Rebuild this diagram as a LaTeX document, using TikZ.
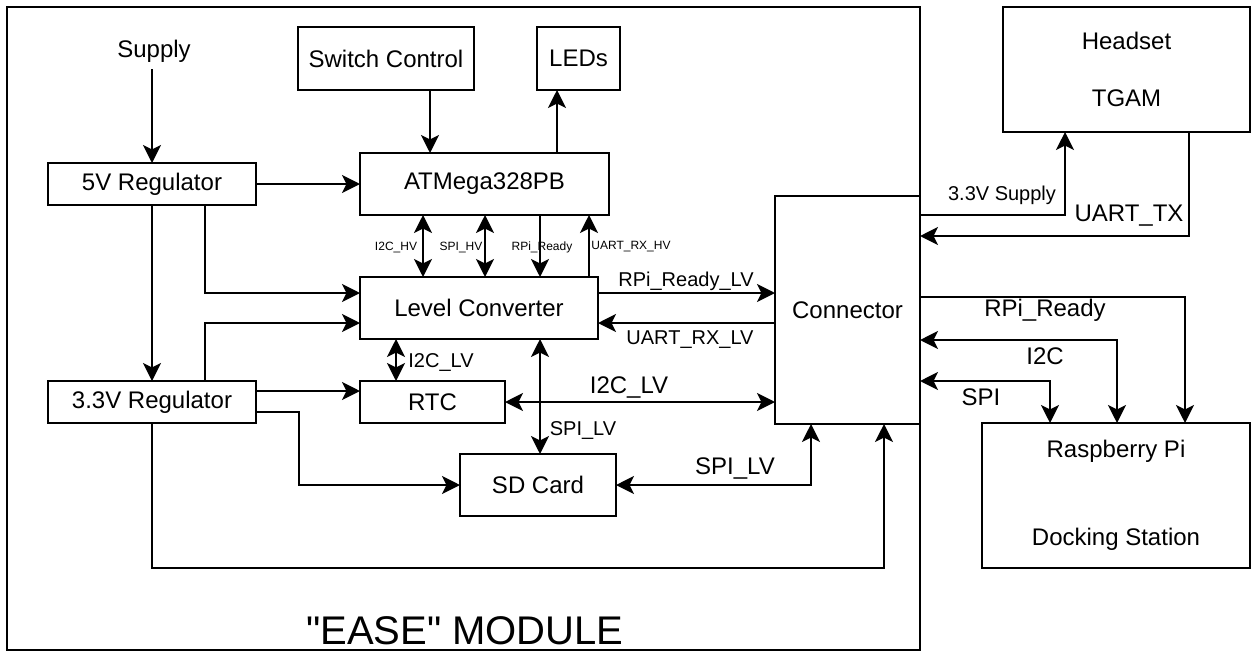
\documentclass[tikz,border=0pt]{standalone}
\usepackage{fontspec}
\setmainfont{Liberation Sans}[Ligatures=TeXOff]
\usetikzlibrary{arrows.meta}
\begin{document}
\begin{tikzpicture}[x=1pt,y=-1pt,
  line width=2pt,
  box/.style={draw, inner sep=0pt, outer sep=0pt, align=center, font=\fontsize{24}{28}\selectfont},
  lbl/.style={inner sep=0pt, font=\fontsize{24}{28}\selectfont},
  mlbl/.style={inner sep=0pt, font=\fontsize{20}{24}\selectfont},
  slbl/.style={inner sep=0pt, font=\fontsize{12}{14}\selectfont},
  tip/.tip={Stealth[length=18pt,width=18pt,inset=4.5pt]},
  arr/.style={-tip},
  darr/.style={tip-tip}
]
\useasboundingbox (0,0) rectangle (1252,651);

% module frame
\node[draw, inner sep=0pt, outer sep=0pt, minimum width=913pt, minimum height=643pt] (module) at (463.5,328.5) {};
\node[inner sep=0pt, font=\fontsize{40}{44}\selectfont] (modlbl) at (465,631) {"EASE" MODULE};

% blocks
\node[lbl, inner sep=6pt] (sup) at (154,51) {Supply};
\node[box, minimum width=208pt, minimum height=42pt] (reg5) at (152,184) {5V Regulator};
\node[box, minimum width=176pt, minimum height=63pt] (sw) at (386,58.5) {Switch Control};
\node[box, minimum width=83pt, minimum height=63pt] (led) at (578.5,58.5) {LEDs};
\node[box, minimum width=249pt, minimum height=62pt] (atm) at (484.5,184) {ATMega328PB};
\node[box, minimum width=238pt, minimum height=62pt] (lc) at (479,308) {Level Converter};
\node[box, minimum width=208pt, minimum height=42pt] (reg33) at (152,402) {3.3V Regulator};
\node[box, minimum width=145pt, minimum height=42pt] (rtc) at (432.5,402) {RTC};
\node[box, minimum width=156pt, minimum height=62pt] (sd) at (538,485) {SD Card};
\node[box, minimum width=145pt, minimum height=228pt] (con) at (847.5,310) {Connector};
\node[box, minimum width=247pt, minimum height=125pt, font=\fontsize{24}{57}\selectfont] (hs) at (1126.5,69.5) {Headset\\TGAM};
\node[box, minimum width=268pt, minimum height=145pt, font=\fontsize{24}{88}\selectfont] (rpi) at (1116,495.5) {Raspberry Pi\\Docking Station};

% helper coordinates
\coordinate (X205) at (205,0);
\coordinate (X299) at (299,0);
\coordinate (X396) at (396,0);
\coordinate (X423) at (423,0);
\coordinate (X430) at (430,0);
\coordinate (X485) at (485,0);
\coordinate (X540) at (540,0);
\coordinate (X557) at (557,0);
\coordinate (X589) at (589,0);
\coordinate (X811) at (811,0);
\coordinate (X884) at (884,0);
\coordinate (X1050) at (1050,0);
\coordinate (X1065) at (1065,0);
\coordinate (X1117) at (1117,0);
\coordinate (X1185) at (1185,0);
\coordinate (X1189) at (1189,0);
\coordinate (Y215) at (0,215);
\coordinate (Y236) at (0,236);
\coordinate (Y293) at (0,293);
\coordinate (Y297) at (0,297);
\coordinate (Y323) at (0,323);
\coordinate (Y340) at (0,340);
\coordinate (Y381) at (0,381);
\coordinate (Y391) at (0,391);
\coordinate (Y412) at (0,412);
\coordinate (Y568) at (0,568);

% connectors
\draw[arr] (sup.south -| reg5.north) -- (reg5.north);
\draw[arr] (reg5.east) -- (atm.west);
\draw[arr] (X430 |- sw.south) -- (X430 |- atm.north);
\draw[arr] (X557 |- atm.north) -- (X557 |- led.south);
\draw[darr] (X423 |- atm.south) -- (X423 |- lc.north);
\draw[darr] (X485 |- atm.south) -- (X485 |- lc.north);
\draw[arr] (X540 |- atm.south) -- (X540 |- lc.north);
\draw[arr] (X589 |- lc.north) -- (X589 |- atm.south);
\draw[arr] (X205 |- reg5.south) |- (lc.west |- Y293);
\draw[arr] (reg5.south) -- (reg33.north);
\draw[arr] (X205 |- reg33.north) |- (lc.west |- Y323);
\draw[arr] (reg33.east |- Y391) -- (rtc.west |- Y391);
\draw[arr] (reg33.east |- Y412) -- (X299 |- Y412) |- (sd.west);
\draw[arr] (reg33.south) |- (X884 |- Y568) -- (X884 |- con.south);
\draw[darr] (X396 |- lc.south) -- (X396 |- rtc.north);
\draw[darr] (X540 |- lc.south) -- (X540 |- sd.north);
\draw[arr] (lc.east |- Y293) -- (con.west |- Y293);
\draw[arr] (con.west |- Y323) -- (lc.east |- Y323);
\draw[darr] (rtc.east) -- (con.west |- rtc.east);
\draw[darr] (sd.east) -| (X811 |- con.south);
\draw[arr, line width=1.5pt] (con.east |- Y215) -| (X1065 |- hs.south);
\draw[arr] (X1189 |- hs.south) |- (con.east |- Y236);
\draw[arr] (con.east |- Y297) -| (X1185 |- rpi.north);
\draw[darr] (con.east |- Y340) -| (X1117 |- rpi.north);
\draw[darr] (con.east |- Y381) -| (X1050 |- rpi.north);

% labels
\node[slbl] (l1) at (396,247) {I2C\_HV};
\node[slbl] (l2) at (461,247) {SPI\_HV};
\node[slbl] (l3) at (542,247) {RPi\_Ready};
\node[slbl] (l4) at (631,247) {UART\_RX\_HV};
\node[mlbl] (l5) at (686,281) {RPi\_Ready\_LV};
\node[mlbl] (l6) at (690,340) {UART\_RX\_LV};
\node[mlbl] (l7) at (441,362) {I2C\_LV};
\node[mlbl] (l8) at (583,430) {SPI\_LV};
\node[lbl] (l9) at (629,387) {I2C\_LV};
\node[lbl] (l10) at (735,468) {SPI\_LV};
\node[mlbl] (l11) at (1002,195) {3.3V Supply};
\node[lbl] (l12) at (1129,216) {UART\_TX};
\node[lbl] (l13) at (1045,310) {RPi\_Ready};
\node[lbl] (l14) at (1045,356) {I2C};
\node[lbl] (l15) at (981,397) {SPI};
\end{tikzpicture}
\end{document}
